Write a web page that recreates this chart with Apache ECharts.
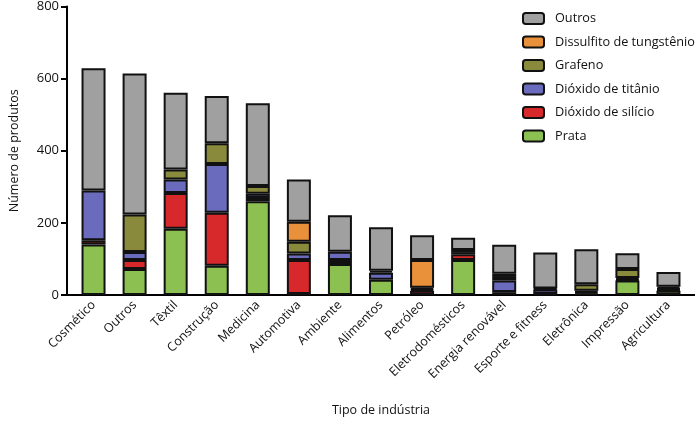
<!DOCTYPE html>
<html><head><meta charset="utf-8">
<script src="https://cdn.jsdelivr.net/npm/echarts@6/dist/echarts.min.js"></script>
<style>html,body{margin:0;padding:0;background:#fff}#c{width:700px;height:422px}</style>
</head><body><div id="c"></div>
<script>
const categories = ['Cosmético','Outros','Têxtil','Construção','Medicina','Automotiva','Ambiente','Alimentos','Petróleo','Eletrodomésticos','Energia renovável','Esporte e fitness','Eletrônica','Impressão','Agricultura'];
const prata      = [140, 72, 184, 81, 260,  3, 86, 42,  0, 97,  0,  0,  4, 40, 12];
const silicio    = [ 12, 25,  99,147,   9, 94, 11,  0, 12, 16,  8,  3,  4,  3,  3];
const titanio    = [138, 22,  37,135,  12, 18, 23, 20,  4,  6, 32, 12,  4,  4,  3];
const grafeno    = [  0,104,  28, 58,  21, 33,  0,  5,  4,  6, 10,  3, 18, 25,  5];
const tungstenio = [  0,  0,   0,  0,   0, 55,  0,  0, 77,  0,  9,  0,  0,  0,  0];
const outros     = [339,391, 213,131, 230,117,101,121, 69, 34, 80,100, 97, 44, 41];
const yTicks = [0, 200, 400, 600, 800];

const font = 'Open Sans';
function s(name, data, color){
  return {name, type:'bar', stack:'t', data:data.map(v => v === 0 ? '-' : v), barWidth:24,
    itemStyle:{color, borderColor:'#111', borderWidth:2}};
}
const chart = echarts.init(document.getElementById('c'));
chart.setOption({
  animation:false,
  textStyle:{fontFamily:font},
  grid:{left:70, right:11, top:6, bottom:126},
  legend:{orient:'vertical', left:517, top:7, itemWidth:21, itemHeight:11, itemGap:10.5,
    textStyle:{fontFamily:font, fontSize:12.7, color:'#111', padding:[0,0,0,6]},
    data:['Outros','Dissulfito de tungstênio','Grafeno','Dióxido de titânio','Dióxido de silício','Prata']},
  xAxis:{type:'category', data:categories,
    name:'Tipo de indústria', nameLocation:'middle', nameGap:109,
    nameTextStyle:{fontFamily:font, fontSize:12.5, color:'#111'},
    axisLine:{lineStyle:{color:'#000', width:2}},
    axisTick:{alignWithLabel:true, length:6, lineStyle:{color:'#000', width:2}},
    axisLabel:{rotate:45, interval:0, fontFamily:font, fontSize:12.5, color:'#111', margin:8}},
  yAxis:{type:'value', min:yTicks[0], max:yTicks[yTicks.length-1], interval:200, offset:6,
    name:'Número de produtos', nameLocation:'middle', nameGap:46,
    nameTextStyle:{fontFamily:font, fontSize:12.5, color:'#111'},
    axisLine:{show:true, lineStyle:{color:'#000', width:2}},
    axisTick:{show:true, length:6, lineStyle:{color:'#000', width:2}},
    splitLine:{show:false},
    axisLabel:{fontFamily:font, fontSize:13, color:'#111', margin:8}},
  series:[
    s('Prata', prata, '#8cc152'),
    s('Dióxido de silício', silicio, '#d7282c'),
    s('Dióxido de titânio', titanio, '#6b6bbd'),
    s('Grafeno', grafeno, '#8a8a3c'),
    s('Dissulfito de tungstênio', tungstenio, '#e8903a'),
    s('Outros', outros, '#a0a0a0')
  ]
});
const y0 = chart.convertToPixel({yAxisIndex:0}, 0);
chart.setOption({graphic:[{type:'line', shape:{x1:64, y1:y0, x2:695, y2:y0}, style:{stroke:'#000', lineWidth:2}}]});
</script></body></html>
